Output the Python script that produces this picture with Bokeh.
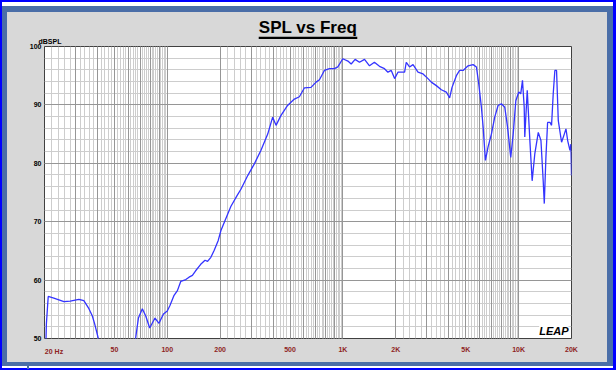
import math
from bokeh.plotting import figure
from bokeh.models import (Range1d, FixedTicker, Grid, Label, Title, LogAxis, LogScale)
from bokeh.embed import file_html
from bokeh.resources import INLINE

# ---- data ----
freq = [20.2, 20.5, 21.0, 22.6, 25.8, 28.0, 31.4, 33.5, 35.8, 37.4, 38.6, 40.5, 42.0, 52.0,
        64.0, 66.0, 68.5, 72.1, 75.5, 79.4, 85.1, 89.7, 95.1, 100, 103.4, 109.3, 114.2,
        119.4, 127.5, 133, 139, 145, 155, 164, 169.5, 177, 185, 195, 202, 230, 250,
        263, 287, 313, 341, 373, 398, 416, 444, 484, 529, 565, 603, 658, 703, 735, 784,
        838, 894, 935, 998, 1067, 1114, 1173, 1242, 1327, 1416, 1510, 1614, 1724, 1803,
        1884, 1968, 2056, 2244, 2293, 2394, 2506, 2674, 2857, 3049, 3184, 3400, 3632,
        3876, 4048, 4178, 4423, 4614, 4830, 5156, 5508, 5752, 5930, 6140, 6280, 6472,
        6700, 7000, 7312, 7640, 7980, 8340, 8650, 9020, 9312, 9640, 10020, 10280, 10520,
        10760, 10840, 11196, 11588, 11940, 12360, 12940, 13400, 13800, 14000, 14300,
        14620, 15080, 15400, 15740, 16080, 16440, 16820, 17560, 18200, 18600, 19020,
        19600, 19850, 20000]
spl = [45.0, 52.5, 57.2, 56.9, 56.3, 56.4, 56.7, 56.5, 55.1, 53.9, 52.5, 50.0, 47.0, 40.0,
       47.0, 50.0, 53.5, 55.1, 53.8, 51.8, 53.5, 52.6, 54.2, 54.7, 55.6, 57.4, 58.2,
       59.8, 60.1, 60.5, 60.8, 61.6, 62.7, 63.4, 63.2, 63.9, 65.1, 66.8, 68.5, 72.6, 74.5,
       75.6, 77.9, 79.9, 82.2, 85.0, 87.9, 86.5, 88.2, 89.9, 91.0, 91.4, 92.9, 93.0, 93.9, 94.3, 95.9,
       96.2, 96.2, 96.5, 97.9, 97.5, 97.0, 97.8, 97.3, 97.8, 96.7, 97.3, 96.6, 96.2, 95.6,
       95.9, 94.5, 95.6, 95.6, 97.3, 96.5, 96.9, 95.6, 95.3, 94.5, 93.9, 93.3, 92.6,
       92.2, 91.2, 93.0, 95.0, 95.9, 95.9, 96.7, 96.9, 96.5, 93.6, 89.6, 86.2, 80.5,
       82.8, 85.0, 87.9, 89.9, 90.2, 89.6, 86.2, 81.0, 85.0, 90.7, 92.2, 91.9, 94.2,
       89.6, 84.5, 92.5, 83.9, 77.0, 81.6, 85.3, 83.9, 77.0, 73.1, 81.0,
       87.0, 87.0, 86.5, 91.9, 95.9, 95.9, 87.3, 83.6, 85.0, 85.9, 83.9,
       82.2, 83.3, 77.9]

x_ticks = [50, 100, 200, 500, 1000, 2000, 5000, 10000, 20000]
x_tick_labels = ["50", "100", "200", "500", "1K", "2K", "5K", "10K", "20K"]
first_x_tick = 20
first_x_label = "20 Hz"
y_ticks = [50, 60, 70, 80, 90, 100]
y_label = "dBSPL"
title_text = "SPL vs Freq"
logo_text = "LEAP"

# grid positions
decades = [10, 100, 1000, 10000]
minor_x = [round(d * (m / 5.0), 6) for d in decades for m in range(10, 51)
           if 20 <= d * (m / 5.0) <= 20000]
mid_x = [d * m for d in decades for m in range(2, 11) if 20 < d * m < 20000]
minor_y = list(range(50, 101, 2))
major_y = list(range(50, 101, 10))

TICK_RED = "#8e2323"
FONT = "Liberation Sans"
FRAME_W = 527          # px width of the plot frame
X_LO, X_HI = 20, 20000

p = figure(width=616, height=370, x_axis_type="log",
           x_range=Range1d(X_LO, X_HI), y_range=Range1d(50, 100),
           output_backend="svg", toolbar_location=None,
           min_border_left=44, min_border_right=616 - 44 - FRAME_W,
           min_border_top=46, min_border_bottom=32)
p.background_fill_color = "white"
p.border_fill_color = None
p.outline_line_color = "#404040"
p.outline_line_width = 1
p.xgrid.visible = False
p.ygrid.visible = False

# window frame painted behind the (transparent) border area
p.styles = {
    "background-color": "#0000ff",
    "background-image": ("linear-gradient(#d8d8d8,#d8d8d8), linear-gradient(#4a6ea8,#4a6ea8), "
                         "linear-gradient(#4a6ea8,#4a6ea8), linear-gradient(#ffffff,#ffffff)"),
    "background-size": "600px 350px, 2px 3px, 611px 360px, 611px 366px",
    "background-position": "7px 12px, 27px 366px, 2px 6px, 2px 2px",
    "background-repeat": "no-repeat",
}

p.add_layout(Grid(dimension=0, ticker=FixedTicker(ticks=minor_x), grid_line_color="#cdcdcd", grid_line_width=1))
p.add_layout(Grid(dimension=1, ticker=FixedTicker(ticks=minor_y), grid_line_color="#cdcdcd", grid_line_width=1))
p.add_layout(Grid(dimension=0, ticker=FixedTicker(ticks=mid_x), grid_line_color="#969696", grid_line_width=1))
p.add_layout(Grid(dimension=1, ticker=FixedTicker(ticks=major_y), grid_line_color="#969696", grid_line_width=1))

p.line(freq, spl, line_color="#3434ff", line_width=1.3)


def style_axis(ax):
    ax.axis_line_color = None
    ax.major_tick_line_color = None
    ax.minor_tick_line_color = None
    ax.major_tick_out = 0
    ax.major_tick_in = 0
    ax.minor_tick_out = 0
    ax.minor_tick_in = 0
    ax.major_label_text_font = FONT
    ax.major_label_text_font_style = "bold"
    ax.major_label_text_font_size = "7px"


style_axis(p.xaxis[0])
style_axis(p.yaxis[0])
p.xaxis.ticker = FixedTicker(ticks=x_ticks)
p.xaxis.major_label_overrides = {t: l for t, l in zip(x_ticks, x_tick_labels)}
p.xaxis.major_label_text_color = TICK_RED
p.xaxis.major_label_standoff = 7

p.yaxis.ticker = FixedTicker(ticks=y_ticks)
p.yaxis.major_label_text_color = "black"
p.yaxis.major_label_standoff = 3

# "20 Hz" label: starts at the first tick instead of being centred on it
shift_px = 9.5
k = 10 ** (shift_px * math.log10(X_HI / X_LO) / FRAME_W)
p.extra_x_ranges = {"hz": Range1d(X_LO / k, X_HI / k)}
p.extra_x_scales = {"hz": LogScale()}
ax20 = LogAxis(x_range_name="hz", ticker=FixedTicker(ticks=[first_x_tick]),
               major_label_overrides={first_x_tick: first_x_label})
style_axis(ax20)
ax20.major_label_text_color = TICK_RED
ax20.major_label_standoff = -8
p.add_layout(ax20, "below")

p.add_layout(Label(x=X_HI, y=50, text=logo_text, x_offset=-3, y_offset=2,
                   text_align="right", text_baseline="bottom",
                   text_font=FONT, text_font_style="bold italic",
                   text_font_size="11px", text_color="black",
                   background_fill_color="white"))

# unit label, title underline, title (stacked above the frame)
unit = Title(text=y_label, align="left", offset=-6, text_font=FONT, text_font_style="bold",
             text_font_size="7px", text_color="black", standoff=-4,
             padding=dict(left=0, right=0, top=0, bottom=4))
p.add_layout(unit, "above")
underline = Title(text=" ", align="center", text_font_size="2px", standoff=-3,
                  background_fill_color="black",
                  padding=dict(left=49, right=49, top=0, bottom=0))
p.add_layout(underline, "above")
p.title.text = title_text
p.title.align = "center"
p.title.text_font = FONT
p.title.text_font_style = "bold"
p.title.text_font_size = "17px"
p.title.text_color = "black"
p.title.standoff = 0

open("out.html", "w").write(file_html(p, INLINE))
